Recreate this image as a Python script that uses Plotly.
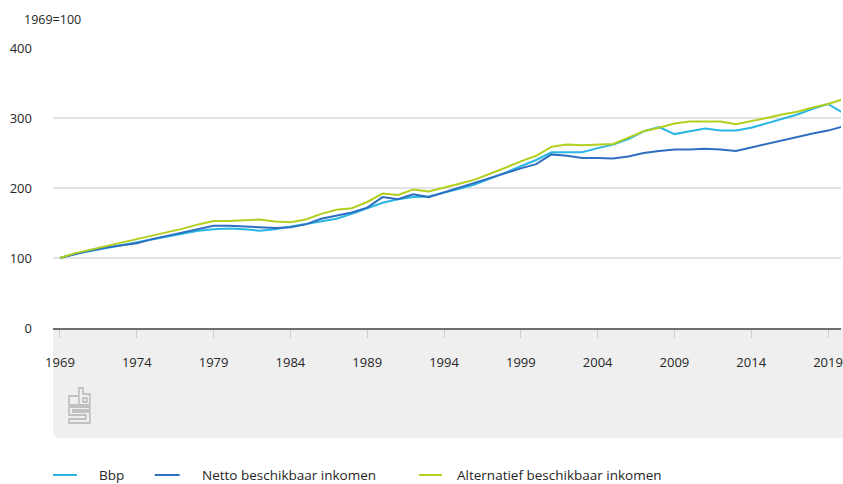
import plotly.graph_objects as go

years = list(range(1969, 2021))

bbp = [100, 106, 110, 114, 119, 123, 126, 131, 135, 139,
       141, 142, 141, 139, 141, 145, 149, 153, 156, 163,
       171, 179, 184, 187, 188, 193, 199, 205, 213, 222,
       231, 240, 251, 251, 251, 257, 262, 270, 281, 287,
       277, 281, 285, 282, 282, 286, 292, 298, 305, 313,
       320, 307]

netto = [100, 106, 111, 115, 118, 121, 127, 132, 136, 142,
         146, 146, 145, 144, 143, 144, 148, 156, 161, 165,
         172, 187, 184, 191, 187, 194, 201, 207, 215, 222,
         228, 234, 248, 246, 243, 243, 242, 245, 250, 253,
         255, 255, 256, 255, 253, 258, 263, 269, 273, 278,
         282, 288]

alternatief = [100, 107, 112, 117, 121, 126, 131, 137, 142, 148,
               153, 153, 154, 155, 152, 151, 155, 163, 169, 171,
               180, 192, 190, 198, 195, 200, 206, 212, 220, 229,
               238, 246, 259, 262, 261, 262, 263, 272, 281, 286,
               292, 295, 295, 295, 291, 295, 300, 305, 309, 315,
               320, 327]

series_names = ["Bbp", "Netto beschikbaar inkomen", "Alternatief beschikbaar inkomen"]
series_colors = ["#29b6e3", "#2f6fc0", "#b2cf1f"]
x_ticks = [1969, 1974, 1979, 1984, 1989, 1994, 1999, 2004, 2009, 2014, 2019]
y_ticks = [0, 100, 200, 300, 400]

W, H = 843, 484
L, R, T, B = 53, 0, 48, 156
PW, PH = W - L - R, H - T - B


def px(x):  # window pixel x -> paper
    return (x - L) / PW


def py(y):  # window pixel y -> paper
    return (T + PH - y) / PH


FONT = "Open Sans"
TXT = "#262626"

fig = go.Figure()
for name, vals, col in zip(series_names, [bbp, netto, alternatief], series_colors):
    fig.add_trace(go.Scatter(x=years, y=vals, mode="lines", name=name,
                             line=dict(color=col, width=2)))

shapes = []
# grey band under the axis with rounded bottom-left corner
y0, y1 = py(328), py(438)
rx, ry = px(61) - px(53), py(430) - py(438)
shapes.append(dict(type="path", xref="paper", yref="paper", layer="below",
                   path=f"M 0,{y0} L 1.02,{y0} L 1.02,{y1} L {rx},{y1} Q 0,{y1} 0,{y1+ry} Z",
                   fillcolor="#efefef", line=dict(width=0)))


def P(points, close=False):
    s = "M " + " L ".join(f"{px(a)},{py(b)}" for a, b in points)
    return s + (" Z" if close else "")


# cbs logo (outline)
logo_col = "#b3b3b3"
logo_paths = [
    P([(78, 396), (69, 396), (69, 405), (78, 405)]),
    P([(79, 388), (83, 388), (83, 394), (90, 394), (90, 405), (79, 405)], close=True),
    P([(83, 398), (87, 398), (87, 402), (83, 402)], close=True),
    P([(90, 407), (69, 407), (69, 415), (86, 415), (86, 419), (69, 419), (69, 423),
       (90, 423), (90, 412), (73, 412), (73, 410), (90, 410)], close=True),
]
for p in logo_paths:
    shapes.append(dict(type="path", xref="paper", yref="paper", path=p,
                       line=dict(color=logo_col, width=1.3)))

# legend (manual)
leg_y = py(475)
leg_items = [(53, 77, 97), (155, 180, 200), (420, 443, 456)]
annotations = []
for (a, b, t), name, col in zip(leg_items, series_names, series_colors):
    shapes.append(dict(type="line", xref="paper", yref="paper",
                       x0=px(a), x1=px(b), y0=leg_y, y1=leg_y,
                       line=dict(color=col, width=2)))
    annotations.append(dict(xref="paper", yref="paper", x=px(t), y=leg_y,
                            xanchor="left", yanchor="middle", showarrow=False,
                            text=name, font=dict(family=FONT, size=13.5, color=TXT)))

annotations.append(dict(xref="paper", yref="paper", x=px(22), y=py(20),
                        xanchor="left", yanchor="middle", showarrow=False,
                        text="1969=100", font=dict(family=FONT, size=12.5, color=TXT)))

fig.update_layout(
    width=W, height=H,
    margin=dict(l=L, r=R, t=T, b=B),
    paper_bgcolor="white", plot_bgcolor="white",
    showlegend=False,
    font=dict(family=FONT, size=13, color=TXT),
    shapes=shapes, annotations=annotations,
    xaxis=dict(range=[1969 - 7 / 15.4, 2019 + 13 / 15.4], tickvals=x_ticks,
               showgrid=False, zeroline=False, showline=True, linecolor="#6e6e6e",
               linewidth=2, ticks="outside", ticklen=8, tickwidth=1, tickcolor="#cccccc",
               ticklabelstandoff=13, ticklabeloverflow="allow",
               tickfont=dict(family=FONT, size=13, color=TXT)),
    yaxis=dict(range=[0, 400], tickvals=y_ticks, showgrid=True, gridcolor="#e3e3e3",
               gridwidth=1.5, zeroline=False, showline=False, ticks="",
               ticklabelstandoff=20, tickfont=dict(family=FONT, size=13, color=TXT)),
)

fig.write_html("out.html", config={"displayModeBar": False},
               post_script="document.body.style.margin='0';document.body.style.overflow='hidden';")
